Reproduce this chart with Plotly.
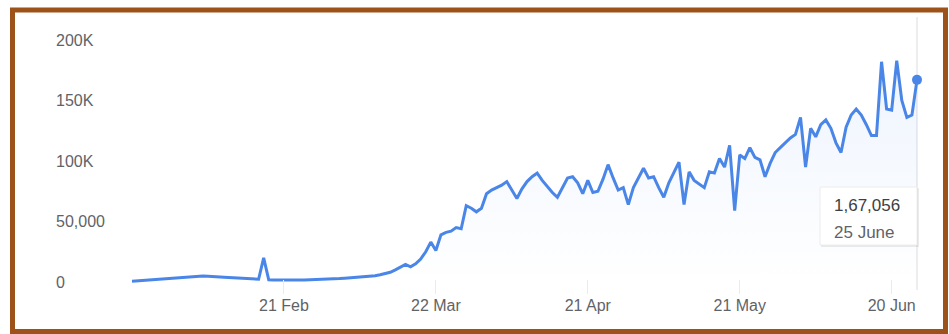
import pandas as pd
import plotly.graph_objects as go

start_date = "2020-01-22"
values = [
    600, 900, 1300, 1700, 2000, 2400, 2700, 3000, 3300, 3600,
    3900, 4200, 4600, 4900, 5000, 4700, 4300, 4100, 3900, 3700,
    3500, 3200, 3000, 2800, 2600, 2300, 20000, 1800, 1600, 1500,
    1400, 1500, 1500, 1600, 1700, 1800, 1900, 2100, 2300, 2500,
    2700, 2900, 3200, 3500, 3800, 4100, 4400, 4700, 5200, 6000,
    7000, 8000, 10000, 12000, 14500, 12500, 15000, 19000, 25000, 33000,
    26000, 39000, 41000, 42000, 45000, 44000, 63000, 61000, 58000, 61000,
    73000, 76000, 78000, 80000, 83000, 76000, 69000, 77000, 83000, 87000,
    90000, 84000, 79000, 74000, 70000, 78000, 86000, 87000, 82000, 73000,
    84000, 74000, 75000, 85000, 97000, 86000, 76000, 78000, 64000, 78000,
    86000, 94000, 86000, 87000, 78000, 70000, 82000, 91000, 99000, 64000,
    91000, 84000, 81000, 78000, 91000, 90000, 102000, 95000, 113000, 59000,
    105000, 102000, 111000, 103000, 101000, 87000, 98000, 107000, 111000, 115000,
    119000, 122000, 136000, 95000, 127000, 120000, 130000, 134000, 127000, 115000,
    107000, 128000, 138000, 143000, 138000, 130000, 121000, 121000, 182000, 143000,
    142000, 183000, 150000, 136000, 138000, 167056,
]
dates = pd.date_range(start_date, periods=len(values), freq="D")

tick_dates = ["2020-02-21", "2020-03-22", "2020-04-21", "2020-05-21", "2020-06-20"]
tick_labels = ["21 Feb", "22 Mar", "21 Apr", "21 May", "20 Jun"]
y_ticks = [0, 50000, 100000, 150000, 200000]
y_labels = ["0", "50,000", "100K", "150K", "200K"]
tooltip_value = "1,67,056"
tooltip_date = "25 June"

BLUE = "#4a86e8"
W, H = 949, 334
L, R, T, B = 53, 24, 17, 40
PW, PH = W - L - R, H - T - B

def px(xp):
    return (xp - L) / PW

def py(yp):
    return (H - B - yp) / PH

# 1 day ~ 5.065 px, first point at x~132, last point at x~917
x_start = dates[0] - pd.Timedelta(days=(132 - L) / 5.065)
x_end = dates[-1] + pd.Timedelta(days=(W - R - 917) / 5.065)
# 0 at y~282, 200K at y~40
per_px = 200000 / 242
y_lo = -(H - B - 282) * per_px
y_hi = (282 - T) * per_px

fig = go.Figure()
fig.add_trace(go.Scatter(
    x=dates, y=values, mode="lines",
    line=dict(color=BLUE, width=3),
    fill="tozeroy",
    fillgradient=dict(type="vertical",
                      colorscale=[[0, "rgba(66,133,244,0.0)"], [1, "rgba(66,133,244,0.09)"]]),
    hoverinfo="skip", showlegend=False,
))
fig.add_trace(go.Scatter(
    x=[dates[-1]], y=[values[-1]], mode="markers",
    marker=dict(color=BLUE, size=10),
    hoverinfo="skip", showlegend=False,
))

shapes = [
    dict(type="line", xref="x", yref="paper", x0=dates[-1], x1=dates[-1], y0=py(290), y1=1,
         line=dict(color="#dadce0", width=1), layer="below"),
    # tooltip shadow + box
    dict(type="rect", xref="paper", yref="paper", x0=px(821), x1=px(919), y0=py(188), y1=py(247),
         line=dict(width=0), fillcolor="rgba(0,0,0,0.08)"),
    dict(type="rect", xref="paper", yref="paper", x0=px(820), x1=px(917), y0=py(187), y1=py(245),
         line=dict(width=1, color="#ececec"), fillcolor="white"),
    # outer brown frame
    dict(type="rect", xref="paper", yref="paper", x0=px(12.5), x1=px(945.5), y0=py(10), y1=py(331.5),
         line=dict(width=5, color="#9c5218"), fillcolor="rgba(0,0,0,0)"),
]

annotations = [
    dict(xref="paper", yref="paper", x=px(832), y=py(205), xanchor="left", yanchor="middle",
         text=tooltip_value, showarrow=False, font=dict(size=17, color="#3c4043")),
    dict(xref="paper", yref="paper", x=px(832), y=py(232), xanchor="left", yanchor="middle",
         text=tooltip_date, showarrow=False, font=dict(size=17, color="#5f6368")),
]

fig.update_layout(
    width=W, height=H,
    margin=dict(l=L, r=R, t=T, b=B),
    paper_bgcolor="white", plot_bgcolor="white",
    font=dict(family="Liberation Sans, Arial, sans-serif", size=16, color="#5f6368"),
    shapes=shapes, annotations=annotations,
    xaxis=dict(
        type="date", range=[x_start, x_end],
        tickvals=tick_dates, ticktext=tick_labels,
        showgrid=False, zeroline=False, showline=False,
        ticks="inside", ticklen=14, tickcolor="#ebebeb", tickwidth=1,
        tickfont=dict(size=16, color="#5f6368"),
    ),
    yaxis=dict(
        range=[y_lo, y_hi],
        tickvals=y_ticks, ticktext=y_labels,
        ticklabelposition="inside",
        showgrid=False, zeroline=False, showline=False, ticks="",
        tickfont=dict(size=16, color="#5f6368"),
    ),
)

fig.write_html("out.html")
